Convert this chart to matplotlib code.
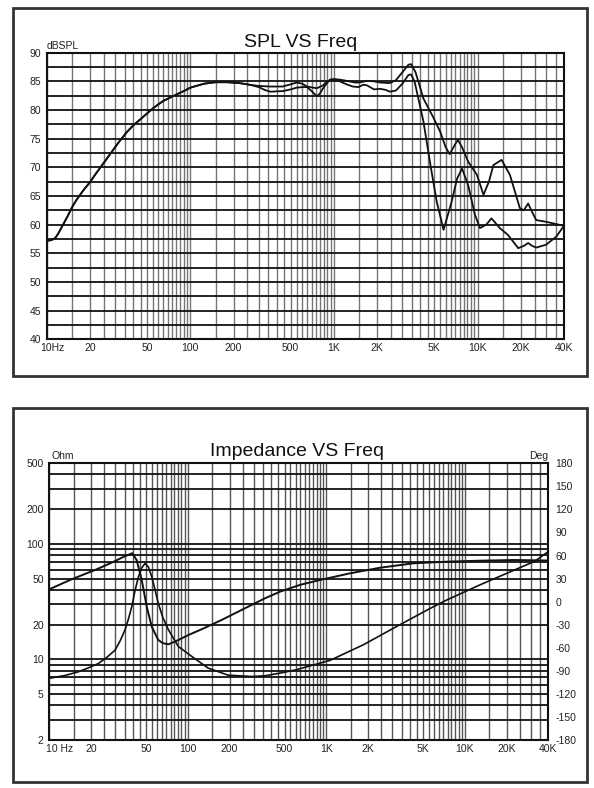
import numpy as np
import matplotlib
matplotlib.use("Agg")
import matplotlib.pyplot as plt
import matplotlib.transforms as mtrans
from matplotlib.ticker import FixedLocator, FixedFormatter, NullFormatter, NullLocator
from matplotlib.patches import Rectangle

plt.rcParams['font.family'] = ['Liberation Sans', 'DejaVu Sans']
plt.rcParams['axes.unicode_minus'] = False

# ---------------- data: SPL ----------------
spl_common_f = [10, 10.5, 11, 11.5, 12, 13, 14, 15, 16, 18, 20, 22, 25, 28, 32, 36, 40, 45, 50, 55,
                60, 65, 70, 80, 90, 100, 110, 125, 150, 180, 220, 260]
spl_common_db = [57.2, 57.25, 57.4, 57.7, 58.4, 60.0, 61.5, 63.0, 64.2, 66.0, 67.4, 68.9, 70.8, 72.5, 74.5,
                 76.1, 77.3, 78.4, 79.4, 80.3, 81.0, 81.6, 82.0, 82.7, 83.3, 83.9, 84.2, 84.6, 84.85,
                 84.85, 84.7, 84.4]

spl_a_f = [300, 360, 440, 520, 550, 600, 650, 720, 760, 840, 940, 1000, 1100, 1220, 1400, 1515,
           1700, 1900, 2100, 2450, 2700, 3000, 3300, 3450, 3700, 4200, 4900, 5500, 6000, 6400,
           6900, 7300, 7800, 8600, 9900, 11000, 12000, 12900, 14700, 16800, 19700, 21000,
           22500, 24000, 25600, 30000, 35300, 40000]
spl_a_db = [84.2, 84.1, 84.1, 84.6, 84.8, 84.6, 84.1, 83.9, 83.8, 84.3, 85.3, 85.4, 85.3, 85.1, 84.8, 84.8,
            85.1, 85.0, 84.8, 84.7, 85.2, 86.6, 87.9, 88.0, 86.6, 82.0, 78.8, 76.2, 73.5, 72.3,
            73.8, 74.8, 73.5, 71.0, 68.7, 65.2, 67.5, 70.4, 71.3, 68.7, 62.9, 62.5,
            63.7, 62.2, 60.8, 60.5, 60.1, 59.8]

spl_b_f = [300, 330, 360, 440, 500, 550, 600, 650, 700, 760, 800, 840, 900, 940, 1000, 1100, 1220,
           1350, 1480, 1600, 1700, 1900, 2100, 2300, 2450, 2700, 3000, 3300, 3450, 3650, 4200,
           4700, 5200, 5800, 6600, 7200, 7800, 8600, 9600, 10400, 11500, 12500, 14300, 16300,
           19200, 21000, 22500, 24000, 25600, 30000, 35300, 40000]
spl_b_db = [84.0, 83.5, 83.2, 83.3, 83.6, 83.9, 84.0, 84.0, 83.3, 82.4, 82.9, 83.8, 84.8, 85.2, 85.3, 85.0, 84.5,
            84.1, 84.0, 84.4, 84.3, 83.6, 83.7, 83.5, 83.2, 83.4, 84.6, 86.1, 86.2, 84.9, 78.0,
            70.4, 64.0, 59.1, 64.0, 68.0, 69.8, 66.9, 61.7, 59.4, 60.0, 61.1, 59.4, 58.2,
            55.9, 56.3, 56.8, 56.3, 56.0, 56.5, 57.9, 59.8]

# ---------------- data: impedance / phase ----------------
imp_f = [10, 13, 16.2, 19, 22.6, 26, 29.8, 32.5, 35.2, 37.3, 39.4, 41.5, 44, 46.5, 49.1, 52, 54.9, 58,
         61.2, 66, 72.5, 85.5, 106.8, 140, 195, 288, 360, 463, 600, 1063, 1855, 3200, 5600, 7400,
         12900, 22600, 32000, 40000]
imp_ohm = [6.85, 7.25, 7.8, 8.4, 9.2, 10.4, 12.0, 14.5, 18, 22.5, 28.6, 39, 52, 62, 68, 63, 52, 40,
           30.6, 23, 18, 12.9, 10.6, 8.4, 7.3, 7.1, 7.2, 7.6, 8.1, 9.8, 13.4, 19.2, 27.6, 32.7,
           44.3, 59.2, 70.8, 86]

ph_f = [10, 14.5, 21.4, 28.2, 35, 39.7, 42.7, 46.5, 50.5, 54.9, 61.2, 66, 72.5, 85.5, 101, 125.6,
        175, 258, 360, 463, 650, 901, 1484, 2456, 4248, 7400, 12900, 22600, 40000]
ph_deg = [16.1, 29.1, 41.2, 50.7, 59, 63, 54.2, 28, -6.5, -32.6, -49.9, -54, -55.5, -49.9, -43.4, -36,
          -23.9, -8.7, 4.3, 13, 22, 28.2, 36.9, 44.2, 49.9, 52, 53.3, 54.2, 53.5]

# ---------------- axis labels ----------------
x_ticks = [10, 20, 50, 100, 200, 500, 1000, 2000, 5000, 10000, 20000, 40000]
x_labels_top = ['10Hz', '20', '50', '100', '200', '500', '1K', '2K', '5K', '10K', '20K', '40K']
x_labels_bot = ['10 Hz', '20', '50', '100', '200', '500', '1K', '2K', '5K', '10K', '20K', '40K']
spl_ticks = [40, 45, 50, 55, 60, 65, 70, 75, 80, 85, 90]
ohm_ticks = [2, 5, 10, 20, 50, 100, 200, 500]
deg_ticks = list(range(-180, 181, 30))

# vertical grid positions: 1.5,2,...,10 x each decade
vgrid = []
for d in [10, 100, 1000, 10000]:
    for m in np.arange(1.5, 10.01, 0.5):
        v = m * d
        if v <= 40000:
            vgrid.append(v)

W, H = 594, 788
fig = plt.figure(figsize=(W / 100, H / 100), dpi=100)

def fx(px):
    return px / W

def fy(py):
    return 1 - py / H

# outer frames
for (x0, y0, x1, y1) in [(13, 7.5, 587, 376), (13, 408, 587, 781.5)]:
    fig.patches.append(Rectangle((fx(x0), fy(y1)), fx(x1) - fx(x0), fy(y0) - fy(y1),
                                 transform=fig.transFigure, fill=False,
                                 edgecolor='#333333', linewidth=2.0))

FS = 7.5

def shift_first_label(ax, dx_px):
    tick = ax.xaxis.get_major_ticks()[0]
    off = mtrans.ScaledTranslation(dx_px / 100, 0, fig.dpi_scale_trans)
    tick.label1.set_transform(tick.label1.get_transform() + off)

# ---------------- top chart ----------------
ax1 = fig.add_axes([fx(46.7), fy(339.3), fx(564) - fx(46.7), fy(52.7) - fy(339.3)])
ax1.set_xscale('log')
ax1.set_xlim(10, 40000)
ax1.set_ylim(40, 90)
ax1.xaxis.set_major_locator(FixedLocator(x_ticks))
ax1.xaxis.set_major_formatter(FixedFormatter(x_labels_top))
ax1.xaxis.set_minor_locator(FixedLocator(vgrid))
ax1.xaxis.set_minor_formatter(NullFormatter())
ax1.yaxis.set_major_locator(FixedLocator(spl_ticks))
ax1.yaxis.set_minor_locator(FixedLocator(list(np.arange(42.5, 90, 5))))
ax1.grid(True, which='both', axis='x', color='#767676', linewidth=1.0)
ax1.grid(True, which='both', axis='y', color='#111111', linewidth=1.3)
ax1.set_axisbelow(True)
ax1.tick_params(which='both', length=0, labelsize=FS, colors='#222222')
ax1.tick_params(axis='x', pad=3)
ax1.tick_params(axis='y', pad=4)
for s in ax1.spines.values():
    s.set_linewidth(1.5)
    s.set_color('#111111')
shift_first_label(ax1, 6)

ax1.plot(spl_common_f + spl_a_f, spl_common_db + spl_a_db, color='#111111', linewidth=1.3, zorder=3)
ax1.plot(spl_common_f + spl_b_f, spl_common_db + spl_b_db, color='#111111', linewidth=1.3, zorder=3)

fig.text(fx(301), fy(47), 'SPL VS Freq', ha='center', va='baseline', fontsize=14, color='#111111')
fig.text(fx(47), fy(49), 'dBSPL', ha='left', va='baseline', fontsize=7.5, color='#222222')

# ---------------- bottom chart ----------------
ax2 = fig.add_axes([fx(49.3), fy(740), fx(548.3) - fx(49.3), fy(463.3) - fy(740)])
ax2.set_xscale('log')
ax2.set_yscale('log')
ax2.set_xlim(10, 40000)
ax2.set_ylim(2, 500)
ax2.xaxis.set_major_locator(FixedLocator(x_ticks))
ax2.xaxis.set_major_formatter(FixedFormatter(x_labels_bot))
ax2.xaxis.set_minor_locator(FixedLocator(vgrid))
ax2.xaxis.set_minor_formatter(NullFormatter())
ax2.yaxis.set_major_locator(FixedLocator(ohm_ticks))
ax2.yaxis.set_major_formatter(FixedFormatter([str(v) for v in ohm_ticks]))
hgrid = []
for d in [1, 10, 100]:
    for m in range(1, 10):
        v = m * d
        if 2 <= v <= 500:
            hgrid.append(v)
ax2.yaxis.set_minor_locator(FixedLocator(hgrid))
ax2.yaxis.set_minor_formatter(NullFormatter())
ax2.grid(True, which='both', axis='x', color='#555555', linewidth=1.0)
ax2.grid(True, which='both', axis='y', color='#111111', linewidth=1.3)
ax2.set_axisbelow(True)
ax2.tick_params(which='both', length=0, labelsize=FS, colors='#222222')
ax2.tick_params(axis='x', pad=3)
ax2.tick_params(axis='y', pad=4)
for s in ax2.spines.values():
    s.set_linewidth(1.5)
    s.set_color('#111111')
shift_first_label(ax2, 10)

ax2.plot(imp_f, imp_ohm, color='#111111', linewidth=1.2, zorder=3)

ax3 = ax2.twinx()
ax3.set_ylim(-180, 180)
ax3.yaxis.set_major_locator(FixedLocator(deg_ticks))
ax3.yaxis.set_minor_locator(NullLocator())
ax3.tick_params(which='both', length=0, labelsize=FS, pad=5, colors='#222222')
for s in ax3.spines.values():
    s.set_visible(False)
ax3.plot(ph_f, ph_deg, color='#111111', linewidth=1.4, zorder=3)

fig.text(fx(297), fy(456), 'Impedance VS Freq', ha='center', va='baseline', fontsize=14, color='#111111')
fig.text(fx(52), fy(459), 'Ohm', ha='left', va='baseline', fontsize=7.5, color='#222222')
fig.text(fx(548), fy(459), 'Deg', ha='right', va='baseline', fontsize=7.5, color='#222222')

fig.savefig('out.png', dpi=100)
